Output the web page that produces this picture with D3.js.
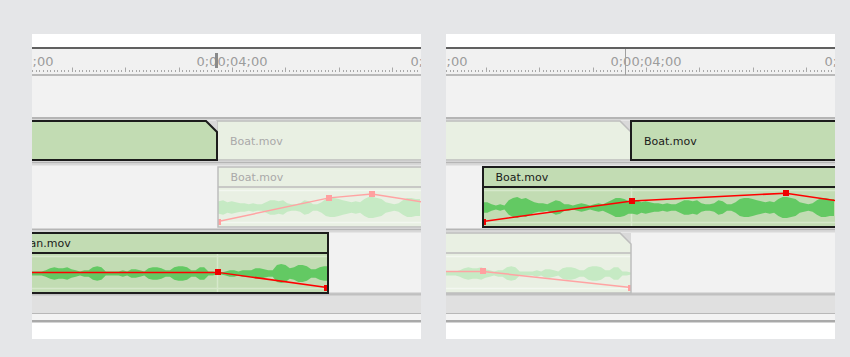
<!DOCTYPE html>
<html><head><meta charset="utf-8">
<script src="https://cdn.jsdelivr.net/npm/d3@7"></script>
<style>html,body{margin:0;padding:0;background:#e5e6e8;}svg{display:block}</style>
</head><body><svg id="c" width="850" height="357"></svg>
<script>
// ---------------- data ----------------
const rulerLabelSeconds = [2, 4, 6];
const rulerLabels = ["0;00;02;00", "0;00;04;00", "0;00;06;00"];
const framesPerSecond = 30;
const viewSeconds = [2.1308, 5.7664];
const panelNames = ["before", "after"];
const playheadSeconds = [3.855, 3.804];
const playheadStyle = ["bar", "line"];

const videoClipNames = ["", "Boat.mov"];
const videoClipStarts = [0.0, 3.86];
const videoClipEnds = [3.86, 9.0];
const videoClipDogEar = [true, false];
const videoSelectedIndex = [0, 1];

const boatName = "Boat.mov";
const boatStarts = [3.869, 2.477];
const boatEnd = 9.0;
const boatSelected = [false, true];
const boatKeySecondsBefore = [3.869, 4.907, 5.308, 6.3];
const boatKeyLevelsBefore = [0, 75, 87, 35];
const boatKeySecondsAfter = [2.477, 3.869, 5.308, 6.3];
const boatKeyLevelsAfter = [0, 65, 90, 40];
const boatWaveStart = 2.477;
const waveStep = 0.04;
const boatWave = [5,5,3,2,3,2,7,9,10,8, 9,7,5,4,4,3,5,7,6,3, 3,2,3,4,3,2,3,4,3,5,
  7,9,9,8,6,6,7,5,6,5, 4,4,3,4,3,3,5,7,7,6, 7,4,3,3,4,7,6,3,3,5,
  8,9,9,8,7,6,5,6,5,8, 10,10,9,8,5,4,3,4,7,9, 9,8,8];

const anName = "Swan.mov";
const anStart = 1.84;
const anEnds = [4.897, 3.86];
const anSelected = [true, false];
const anDogEar = [false, true];
const anLabelShown = [true, false];
const anKeySecondsBefore = [1.84, 3.869, 4.888];
const anKeyLevelsBefore = [48, 48, 0];
const anKeySecondsAfter = [1.84, 2.477, 3.86];
const anKeyLevelsAfter = [51, 51, 0];
const anWaveStart = 2.10;
const anWave = [2, 2,2,2,3,5,6,5,5,6,4, 3,2,3,3,6,7,6,2,2,2, 2,3,2,4,4,3,2,5,6,6,
  5,3,3,6,7,7,6,3,3,6, 6,2,2,1,1,2,3,3,2,3, 3,3,5,5,4,3,3,8,9,8, 5,6,8,8,7,4,4,6,7,7];

const editSecond = 3.86;

// ---------------- drawing ----------------
const svg = d3.select("#c");
svg.append("rect").attr("width", 850).attr("height", 357).attr("fill", "#e5e6e8");
const defs = svg.append("defs");

const panelX = [32, 446], panelW = 389;
const C = {
  selFill: "#c2dcb3", fadeFill: "#e9f0e3",
  selStroke: "#1c1c1c", fadeStroke: "#bdbdbd",
  selWave: "#63c963", fadeWave: "#c6eac4",
  selLine: "#ff0000", fadeLine: "#ffa3a3",
  selGuide: "#d6e8cb", fadeGuide: "#f3f7f0",
  selText: "#1a1a1a", fadeText: "#a9a9a9"
};
let uid = 0;

function shapePath(x1, x2, y1, y2, dog) {
  const d = 11;
  if (dog) return `M${x1},${y1}L${x2 - d},${y1}L${x2},${y1 + d}L${x2},${y2}L${x1},${y2}Z`;
  return `M${x1},${y1}L${x2},${y1}L${x2},${y2}L${x1},${y2}Z`;
}

function drawVideoClip(g, X, start, end, y1, y2, sel, dog, name) {
  const x1 = X(start), x2 = X(end);
  if (dog) {
    g.append("path").attr("d", `M${x2 - 11},${y1}L${x2},${y1}L${x2},${y1 + 11}Z`).attr("fill", "#d9d9d9");
  }
  g.append("path").attr("d", shapePath(x1, x2, y1, y2, dog))
    .attr("fill", sel ? C.selFill : C.fadeFill)
    .attr("stroke", sel ? C.selStroke : C.fadeStroke)
    .attr("stroke-width", sel ? 2 : 1.5);
  if (name) {
    g.append("text").attr("x", x1 + 13).attr("y", (y1 + y2) / 2 + 4)
      .attr("font-family", "DejaVu Sans, Verdana, sans-serif").attr("font-size", 11)
      .attr("fill", sel ? C.selText : C.fadeText).text(name);
  }
}

function drawAudioClip(g, xs, start, end, y1, yh, y2, sel, dog, name, wave, waveStart, keySecs, keyLevels) {
  const X = t => Math.round(xs(t));
  const x1 = X(start), x2 = X(end);
  const id = "ac" + (uid++);
  defs.append("clipPath").attr("id", id).append("path").attr("d", shapePath(x1, x2, y1, y2, dog));
  if (dog) {
    g.append("path").attr("d", `M${x2 - 11},${y1}L${x2},${y1}L${x2},${y1 + 11}Z`).attr("fill", "#d9d9d9");
  }
  g.append("path").attr("d", shapePath(x1, x2, y1, y2, dog)).attr("fill", sel ? C.selFill : C.fadeFill);
  const inner = g.append("g").attr("clip-path", `url(#${id})`);
  const ly = d3.scaleLinear().domain([0, 100]).range([y2 - 5.5, yh + 3]);
  const cy = (yh + y2) / 2 + 0.5;
  const amp = d3.scaleLinear().domain([0, 10]).range([0, 10.5]);
  [0, 100].forEach(v => inner.append("line").attr("x1", x1).attr("x2", x2)
    .attr("y1", Math.round(ly(v)) + 0.5).attr("y2", Math.round(ly(v)) + 0.5)
    .attr("stroke", sel ? C.selGuide : C.fadeGuide).attr("stroke-width", 1.5));
  inner.append("line").attr("x1", X(editSecond) + 0.5).attr("x2", X(editSecond) + 0.5)
    .attr("y1", yh).attr("y2", y2).attr("stroke", sel ? C.selGuide : C.fadeGuide).attr("stroke-width", 1.5);
  const area = d3.area()
    .x((d, i) => xs(waveStart + i * waveStep))
    .y0(d => cy + amp(d)).y1(d => cy - amp(d));
  inner.append("path").datum(wave).attr("d", area).attr("fill", sel ? C.selWave : C.fadeWave);
  const pts = keySecs.map((s, i) => [s, keyLevels[i]]);
  const line = d3.line().x(d => xs(d[0])).y(d => ly(d[1])).curve(d3.curveLinear);
  inner.append("path").datum(pts).attr("d", line).attr("fill", "none")
    .attr("stroke", sel ? C.selLine : C.fadeLine).attr("stroke-width", 1.5);
  inner.selectAll(null).data(pts).enter().append("rect")
    .attr("x", d => Math.round(xs(d[0])) - 3).attr("y", d => Math.round(ly(d[1])) - 3)
    .attr("width", 6).attr("height", 6).attr("fill", sel ? "#f00000" : "#ffa0a0");
  g.append("line").attr("x1", x1).attr("x2", x2).attr("y1", yh).attr("y2", yh)
    .attr("stroke", sel ? C.selStroke : C.fadeStroke).attr("stroke-width", sel ? 2 : 1.5);
  g.append("path").attr("d", shapePath(x1, x2, y1, y2, dog)).attr("fill", "none")
    .attr("stroke", sel ? C.selStroke : C.fadeStroke).attr("stroke-width", sel ? 2 : 1.5);
  if (name) {
    g.append("text").attr("x", x1 + 12.5).attr("y", yh - 6)
      .attr("font-family", "DejaVu Sans, Verdana, sans-serif").attr("font-size", 11)
      .attr("fill", sel ? C.selText : C.fadeText).text(name);
  }
}

panelNames.forEach((pname, p) => {
  const x0 = panelX[p];
  const xs = d3.scaleLinear().domain(viewSeconds).range([x0, x0 + panelW]);
  const X = t => Math.round(xs(t));
  defs.append("clipPath").attr("id", "pc" + p).append("rect")
    .attr("x", x0).attr("y", 34).attr("width", panelW).attr("height", 305);
  const g = svg.append("g").attr("clip-path", `url(#pc${p})`).attr("class", "panel-" + pname);
  const R = (y, h, f) => g.append("rect").attr("x", x0).attr("y", y).attr("width", panelW).attr("height", h).attr("fill", f);

  R(34, 305, "#ffffff");
  R(47, 2, "#606060");
  R(49, 25, "#f1f1f1");
  R(74, 2, "#bababa");
  R(76, 218, "#f2f2f2");
  R(117, 2, "#b5b5b5");
  R(119, 1.5, "#d8d8d8");
  R(161.5, 2, "#b5b5b5");
  R(164, 1.5, "#d8d8d8");
  R(228.5, 2, "#b5b5b5");
  R(231, 1.5, "#d8d8d8");
  R(292.5, 1.5, "#c4c4c4");
  R(294, 19, "#e0e0e0");
  R(294, 1.5, "#c0c0c0");
  R(313, 1, "#b8b8b8");
  R(314, 6, "#f3f3f3");
  R(320, 2.5, "#a9a9a9");

  const f0 = Math.ceil(viewSeconds[0] * framesPerSecond), f1 = Math.floor(viewSeconds[1] * framesPerSecond);
  const frames = d3.range(f0, f1 + 1);
  g.selectAll(null).data(frames).enter().append("line")
    .attr("x1", f => X(f / framesPerSecond) + 0.5).attr("x2", f => X(f / framesPerSecond) + 0.5)
    .attr("y1", f => f % 15 === 0 ? 67.5 : 70).attr("y2", 72)
    .attr("stroke", "#a8a8a8").attr("stroke-width", 1);
  g.selectAll(null).data(rulerLabelSeconds).enter().append("text")
    .attr("x", s => xs(s)).attr("y", 66).attr("text-anchor", "middle")
    .attr("font-family", "DejaVu Sans, Verdana, sans-serif").attr("font-size", 13)
    .attr("fill", "#9c9c9c").text((s, i) => rulerLabels[i]);
  const ph = X(playheadSeconds[p]);
  if (playheadStyle[p] === "bar") {
    g.append("rect").attr("x", ph - 1).attr("y", 53).attr("width", 3).attr("height", 15).attr("fill", "#8a8a8a");
  } else {
    g.append("line").attr("x1", ph + 0.5).attr("x2", ph + 0.5).attr("y1", 49).attr("y2", 75)
      .attr("stroke", "#a0a0a0").attr("stroke-width", 1);
  }

  const order = videoClipNames.map((n, i) => i).sort((a, b) => (a === videoSelectedIndex[p]) - (b === videoSelectedIndex[p]));
  order.forEach(i => drawVideoClip(g, X, videoClipStarts[i], videoClipEnds[i], 121, 160,
    i === videoSelectedIndex[p], videoClipDogEar[i], videoClipNames[i]));

  drawAudioClip(g, xs, boatStarts[p], boatEnd, 167, 187, 227, boatSelected[p], false, boatName,
    boatWave, boatWaveStart,
    p === 0 ? boatKeySecondsBefore : boatKeySecondsAfter,
    p === 0 ? boatKeyLevelsBefore : boatKeyLevelsAfter);

  drawAudioClip(g, xs, anStart, anEnds[p], 233, 253, 293, anSelected[p], anDogEar[p],
    anLabelShown[p] ? anName : "",
    anWave, anWaveStart,
    p === 0 ? anKeySecondsBefore : anKeySecondsAfter,
    p === 0 ? anKeyLevelsBefore : anKeyLevelsAfter);
});
</script></body></html>
